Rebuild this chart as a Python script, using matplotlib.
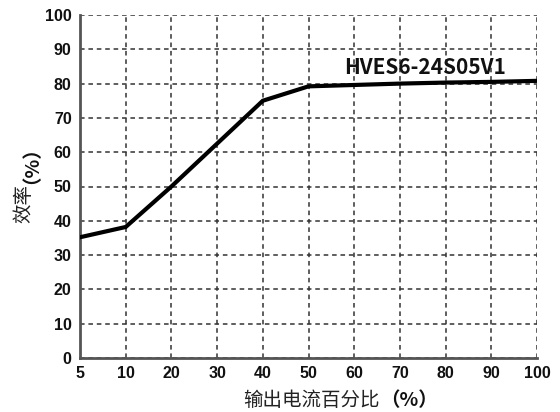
import matplotlib
matplotlib.use("Agg")
import matplotlib.pyplot as plt

# load percentage (categorical, evenly spaced) and efficiency
load_labels = ["5", "10", "20", "30", "40", "50", "60", "70", "80", "90", "100"]
efficiency = [35.2, 38.2, 50.0, 62.5, 75.0, 79.2, 79.6, 80.0, 80.3, 80.5, 80.8]
y_ticks = [0, 10, 20, 30, 40, 50, 60, 70, 80, 90, 100]
model_name = "HVES6-24S05V1"

CJK = ['Noto Sans CJK SC', 'DejaVu Sans']
plt.rcParams['font.family'] = ['Liberation Sans', 'Noto Sans CJK SC', 'DejaVu Sans']

fig = plt.figure(figsize=(5.6, 4.12), dpi=100)
ax = fig.add_axes([80 / 560, 1 - 358 / 412, 457 / 560, 343 / 412])

xpos = list(range(len(load_labels)))
ax.plot(xpos, efficiency, color='black', linewidth=3, solid_joinstyle='miter', zorder=3)

ax.set_xlim(0, len(load_labels) - 1)
ax.set_ylim(0, 100)
ax.set_xticks(xpos)
ax.set_xticklabels(load_labels)
ax.set_yticks(y_ticks)

ax.grid(True, color='#333333', linestyle=(0, (3, 2.5)), linewidth=1.1)
ax.set_axisbelow(True)

for side in ['top', 'right']:
    ax.spines[side].set_visible(False)
ax.spines['left'].set_color('#555555')
ax.spines['bottom'].set_color('#555555')
ax.spines['left'].set_linewidth(2)
ax.spines['bottom'].set_linewidth(2)

ax.tick_params(length=0, pad=6, labelsize=11.5, colors='#111111')
for lbl in ax.get_xticklabels() + ax.get_yticklabels():
    lbl.set_fontweight('bold')

ax.text(7.55, 84.8, model_name, fontsize=15, fontweight='bold', color='#111111',
        ha='center', va='center', family=CJK)

# axis titles: Chinese text normal weight, the (%) part bold
fig.text(380 / 560, 1 - 401 / 412, "输出电流百分比", fontsize=14, ha='right', va='center',
         color='#222222', family=CJK)
fig.text(380 / 560, 1 - 401 / 412, "（%）", fontsize=14, ha='left', va='center',
         fontweight='bold', color='#111111', family=CJK)
fig.text(24 / 560, 1 - 184 / 412, "效率", fontsize=14, ha='center', va='top',
         rotation=90, color='#222222', family=CJK)
fig.text(22 / 560, 1 - 184 / 412, "（%）", fontsize=14, ha='center', va='bottom',
         rotation=90, fontweight='bold', color='#111111', family=CJK)

fig.savefig("out.png", dpi=100, facecolor='white')
